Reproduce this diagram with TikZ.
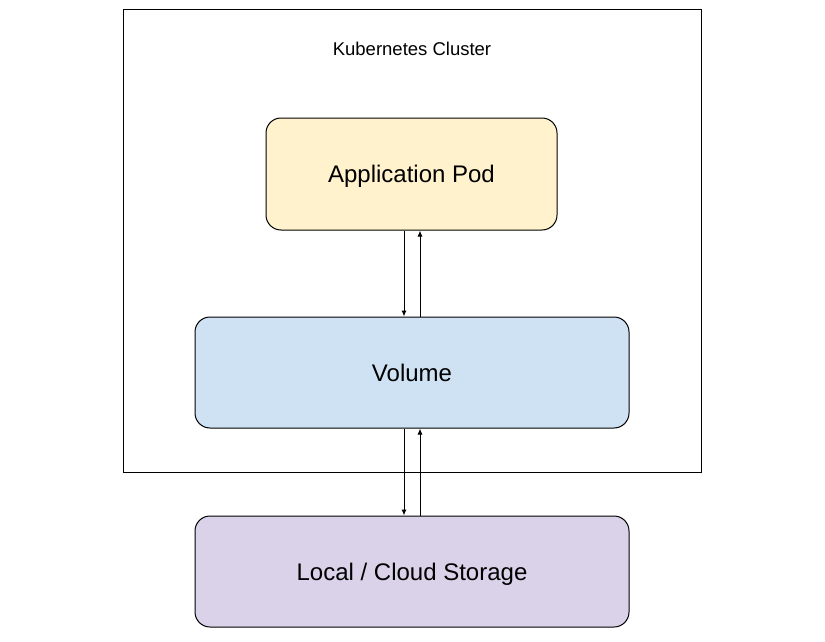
\documentclass[tikz,border=0pt]{standalone}
\usepackage{fontspec}
\setmainfont{Liberation Sans}
\usetikzlibrary{arrows.meta}

\definecolor{podfill}{HTML}{FFF2CC}
\definecolor{volfill}{HTML}{CFE2F3}
\definecolor{storefill}{HTML}{D9D2E9}

\tikzset{
  box/.style={draw=black, line width=1pt, rounded corners=15pt, inner sep=0pt, text height=17pt, text depth=0pt, font=\fontsize{24}{28}\selectfont},
  flow/.style={line width=1pt, -{Latex[length=6pt,width=5pt]}}
}

\begin{document}
\begin{tikzpicture}[x=1pt,y=1pt,yscale=-1]
        \useasboundingbox (0,0) rectangle (825,642);

        %Shape: Rectangle [cluster]
        \draw [line width=1pt] (123,10) rectangle (701,472) ;
        % Text Node
        \node (clusterlabel) at (412,49) [font=\fontsize{18.5}{22}\selectfont, text height=13pt, text depth=0pt, inner sep=0pt] {Kubernetes Cluster};

        %Shape: Rounded Rect [pod]
        \node (pod) at (411.5,174) [box, fill=podfill, minimum width=291, minimum height=112] {Application Pod};
        %Shape: Rounded Rect [volume]
        \node (volume) at (412,372.5) [box, fill=volfill, minimum width=434, minimum height=111] {Volume};
        %Shape: Rounded Rect [storage]
        \node (storage) at (412,571.5) [box, fill=storefill, minimum width=434, minimum height=111] {Local / Cloud Storage};

        %Straight Lines [pod to volume]
        \draw [flow] ([xshift=-7.5pt]pod.south) -- ([xshift=-8pt]volume.north) ;
        \draw [flow] ([xshift=8pt]volume.north) -- ([xshift=8.5pt]pod.south) ;
        %Straight Lines [volume to storage]
        \draw [flow] ([xshift=-8pt]volume.south) -- ([xshift=-8pt]storage.north) ;
        \draw [flow] ([xshift=8pt]storage.north) -- ([xshift=8pt]volume.south) ;

    \end{tikzpicture}
\end{document}
